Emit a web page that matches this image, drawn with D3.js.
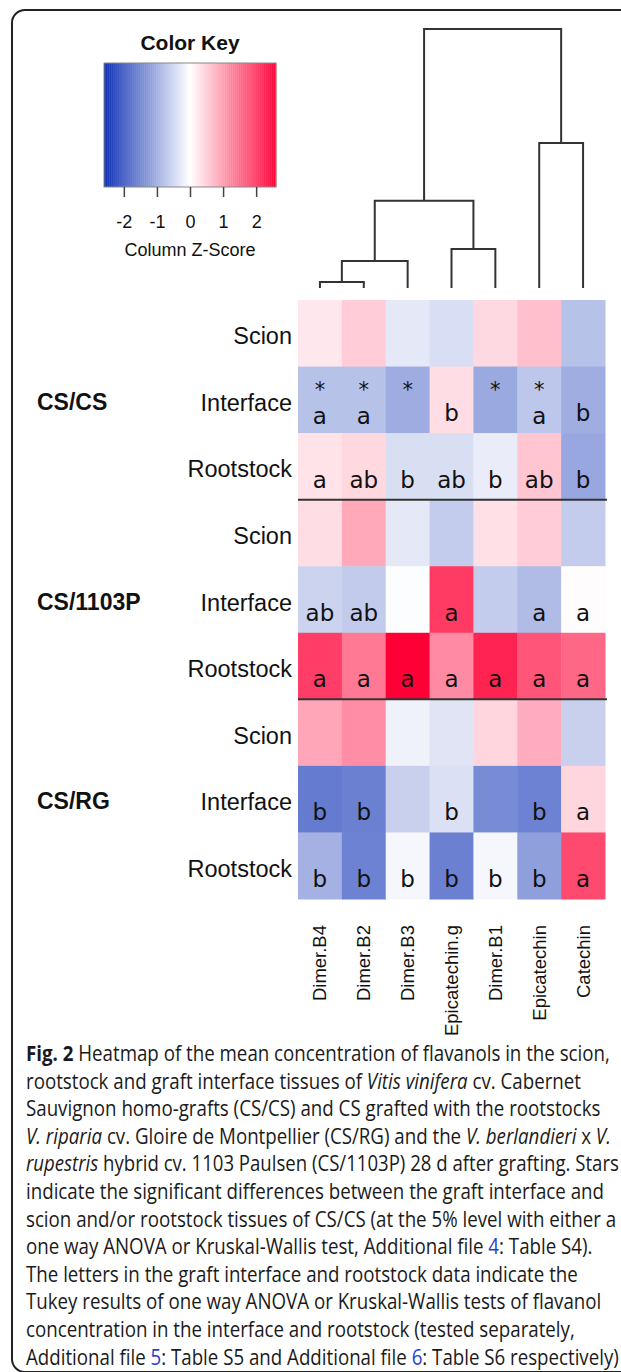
<!DOCTYPE html>
<html><head><meta charset="utf-8">
<script src="https://cdn.jsdelivr.net/npm/d3@7"></script>
<style>body{margin:0;background:#fff}svg{display:block}</style>
</head><body>
<svg id="c" width="621" height="1372"></svg>
<script>
// ---------------- DATA ----------------
const columns = ["Dimer.B4","Dimer.B2","Dimer.B3","Epicatechin.g","Dimer.B1","Epicatechin","Catechin"];
const groups = ["CS/CS","CS/1103P","CS/RG"];
const tissues = ["Scion","Interface","Rootstock"];

// column z-scores per row
const zCSCS_Scion      = [0.23, 0.52, -0.29, -0.41, 0.39, 0.65, -0.76];
const zCSCS_Interface  = [-0.76, -0.76, -1.03, 0.35, -1.07, -0.70, -1.02];
const zCSCS_Rootstock  = [0.29, 0.40, -0.40, -0.40, -0.22, 0.58, -1.09];
const zP_Scion         = [0.35, 0.88, -0.29, -0.63, 0.32, 0.52, -0.63];
const zP_Interface     = [-0.54, -0.64, -0.03, 2.00, -0.63, -0.84, 0.03];
const zP_Rootstock     = [1.98, 1.38, 2.60, 1.19, 2.24, 1.73, 1.55];
const zRG_Scion        = [0.91, 1.16, -0.16, -0.33, 0.43, 0.84, -0.58];
const zRG_Interface    = [-1.64, -1.57, -0.58, -0.38, -1.43, -1.55, 0.43];
const zRG_Rootstock    = [-0.96, -1.55, -0.10, -1.57, -0.10, -1.19, 1.85];

// letters (Tukey groups) and stars
const lCSCS_Scion      = ["","","","","","",""];
const lCSCS_Interface  = ["a","a","","b","","a","b"];
const lCSCS_Rootstock  = ["a","ab","b","ab","b","ab","b"];
const lP_Scion         = ["","","","","","",""];
const lP_Interface     = ["ab","ab","","a","","a","a"];
const lP_Rootstock     = ["a","a","a","a","a","a","a"];
const lRG_Scion        = ["","","","","","",""];
const lRG_Interface    = ["b","b","","b","","b","a"];
const lRG_Rootstock    = ["b","b","b","b","b","b","a"];
const starsCSCS_Interface = ["*","*","*","","*","*",""];

// dendrogram (hclust-like merge, negative = leaf index 1-based)
const dendroMerge  = [[-1,-2],[1,-3],[-4,-5],[2,3],[-6,-7],[4,5]];
const dendroHeight = [0.23, 1.04, 1.51, 3.37, 5.6, 10];

// color key
const keyTicks = [-2,-1,0,1,2];
const keyDomain = [-2.6, 2.6];

// caption lines: [text, style]  b=bold i=italic l=link
const captionLines = [
  [["Fig. 2","b"],[" Heatmap of the mean concentration of flavanols in the scion,",""]],
  [["rootstock and graft interface tissues of ",""],["Vitis vinifera","i"],[" cv. Cabernet",""]],
  [["Sauvignon homo-grafts (CS/CS) and CS grafted with the rootstocks",""]],
  [["V. riparia","i"],[" cv. Gloire de Montpellier (CS/RG) and the ",""],["V. berlandieri","i"],[" x ",""],["V.","i"]],
  [["rupestris","i"],[" hybrid cv. 1103 Paulsen (CS/1103P) 28 d after grafting. Stars",""]],
  [["indicate the significant differences between the graft interface and",""]],
  [["scion and/or rootstock tissues of CS/CS (at the 5% level with either a",""]],
  [["one way ANOVA or Kruskal-Wallis test, Additional file ",""],["4","l"],[": Table S4).",""]],
  [["The letters in the graft interface and rootstock data indicate the",""]],
  [["Tukey results of one way ANOVA or Kruskal-Wallis tests of flavanol",""]],
  [["concentration in the interface and rootstock (tested separately,",""]],
  [["Additional file ",""],["5","l"],[": Table S5 and Additional file ",""],["6","l"],[": Table S6 respectively)",""]]
];
const captionFullLines = [0,2,3,4,6,11];
const captionFullEnd = 614;

// ---------------- LAYOUT ----------------
const svg = d3.select("#c");
const sans = "'Liberation Sans', Arial, sans-serif";
const Z = [zCSCS_Scion,zCSCS_Interface,zCSCS_Rootstock,zP_Scion,zP_Interface,zP_Rootstock,zRG_Scion,zRG_Interface,zRG_Rootstock];
const L = [lCSCS_Scion,lCSCS_Interface,lCSCS_Rootstock,lP_Scion,lP_Interface,lP_Rootstock,lRG_Scion,lRG_Interface,lRG_Rootstock];
const rowIds = d3.range(9);

// frame
svg.append("rect").attr("x",12).attr("y",10).attr("width",650).attr("height",1362)
  .attr("rx",13).attr("fill","none").attr("stroke","#222").attr("stroke-width",2);

const color = d3.scaleLinear().domain([keyDomain[0],0,keyDomain[1]])
  .range(["#0a2db3","#ffffff","#ff0036"]).clamp(true);

const x = d3.scaleBand().domain(columns).range([298,605]).padding(0);
const y = d3.scaleBand().domain(rowIds).range([300,899]).padding(0);

// cells
const cells = [];
rowIds.forEach(r => columns.forEach((c,ci) => cells.push({r, c, z: Z[r][ci], l: L[r][ci], s: r===1 ? starsCSCS_Interface[ci] : ""})));
svg.append("g").selectAll("rect").data(cells).join("rect")
  .attr("x", d => x(d.c)).attr("y", d => y(d.r))
  .attr("width", x.bandwidth()+0.5).attr("height", y.bandwidth()+0.5)
  .attr("fill", d => color(d.z));

// stars
svg.append("g").selectAll("text").data(cells.filter(d=>d.s)).join("text")
  .attr("x", d => x(d.c)+x.bandwidth()/2).attr("y", d => y(d.r)+30.5)
  .attr("text-anchor","middle").attr("font-family","'DejaVu Sans', sans-serif")
  .attr("font-size",21).attr("fill","#111").text(d=>d.s);
// letters
svg.append("g").selectAll("text").data(cells.filter(d=>d.l)).join("text")
  .attr("x", d => x(d.c)+x.bandwidth()/2)
  .attr("y", d => y(d.r)+y.bandwidth()-(d.s ? 9.5 : 12))
  .attr("text-anchor","middle").attr("font-family","'DejaVu Sans', sans-serif")
  .attr("font-size",23).attr("fill","#111").text(d=>d.l);

// group separator lines
[3,6].forEach(r => {
  svg.append("line").attr("x1",298).attr("x2",607).attr("y1",y(r)).attr("y2",y(r))
    .attr("stroke","#333").attr("stroke-width",2);
});

// row labels
svg.append("g").selectAll("text").data(rowIds).join("text")
  .attr("x",292).attr("y", r => y(r)+y.bandwidth()/2+11)
  .attr("text-anchor","end").attr("font-family",sans).attr("font-size",23.5).attr("fill","#111")
  .text(r => tissues[r%3]);
// group labels
svg.append("g").selectAll("text").data(groups).join("text")
  .attr("x",37).attr("y",(g,i)=> y(i*3+1)+y.bandwidth()/2+10)
  .attr("font-family",sans).attr("font-weight","bold").attr("font-size",23).attr("fill","#111")
  .text(g=>g);

// column labels
svg.append("g").selectAll("text").data(columns).join("text")
  .attr("transform", c => `translate(${x(c)+x.bandwidth()/2+6.5},925) rotate(-90)`)
  .attr("text-anchor","end").attr("font-family",sans).attr("font-size",18.5).attr("fill","#111")
  .text(c=>c);

// dendrogram
const yD = d3.scaleLinear().domain([0,10]).range([288,29]);
const nodes = [];
function pos(idx){ return idx<0 ? {x: x(columns[-idx-1])+x.bandwidth()/2, y: yD(0)} : nodes[idx-1]; }
const dpaths = [];
dendroMerge.forEach((m,k) => {
  const a = pos(m[0]), b = pos(m[1]);
  const ny = yD(dendroHeight[k]);
  nodes.push({x:(a.x+b.x)/2, y:ny});
  dpaths.push(`M${a.x},${a.y}V${ny}H${b.x}V${b.y}`);
});
svg.append("g").selectAll("path").data(dpaths).join("path")
  .attr("d",d=>d).attr("fill","none").attr("stroke","#333").attr("stroke-width",2);

// color key
const kx = d3.scaleLinear().domain(keyDomain).range([104,276]);
const steps = d3.range(keyDomain[0], keyDomain[1], 0.02);
svg.append("g").selectAll("rect").data(steps).join("rect")
  .attr("x", v => kx(v)).attr("y",63).attr("width", kx(0.03)-kx(0)).attr("height",124)
  .attr("fill", v => color(v+0.01));
svg.append("rect").attr("x",104).attr("y",63).attr("width",172).attr("height",124)
  .attr("fill","none").attr("stroke","#888").attr("stroke-width",1);
const ax = svg.append("g").attr("transform","translate(0,187)")
  .call(d3.axisBottom(kx).tickValues(keyTicks).tickSize(10).tickPadding(18.5).tickFormat(d3.format("d")));
ax.select(".domain").remove();
ax.selectAll("line").attr("stroke","#444").attr("stroke-width",1.5);
ax.selectAll("text").attr("font-family",sans).attr("font-size",18).attr("fill","#111")
  .text(d => d<0 ? "-"+Math.abs(d) : d);
svg.append("text").attr("x",190).attr("y",50).attr("text-anchor","middle")
  .attr("font-family",sans).attr("font-weight","bold").attr("font-size",21).attr("fill","#111").text("Color Key");
svg.append("text").attr("x",190).attr("y",256).attr("text-anchor","middle")
  .attr("font-family",sans).attr("font-size",18).attr("fill","#111").text("Column Z-Score");

// caption (single horizontal scale for all lines, fitted to the full-width lines)
const cx0 = 26;
const capTexts = captionLines.map((segs,i) => {
  const t = svg.append("text").attr("x",0).attr("y",0)
    .attr("font-family","'Open Sans', 'Noto Sans', sans-serif").attr("font-size",21).attr("fill","#1a1a1a");
  segs.forEach(([s,st]) => {
    const ts = t.append("tspan").text(s);
    if (st==="b") ts.attr("font-weight","bold");
    if (st==="i") ts.attr("font-style","italic");
    if (st==="l") ts.attr("fill","#1f3fd6");
  });
  return t;
});
const widths = capTexts.map(t => t.node().getComputedTextLength());
const sx = d3.median(captionFullLines.map(i => (captionFullEnd-cx0)/widths[i]));
capTexts.forEach((t,i) => {
  const s = Math.min(sx, (619-cx0)/widths[i]);
  t.attr("transform",`translate(${cx0},${1061+i*27.6}) scale(${s},1)`);
});
</script>
</body></html>
